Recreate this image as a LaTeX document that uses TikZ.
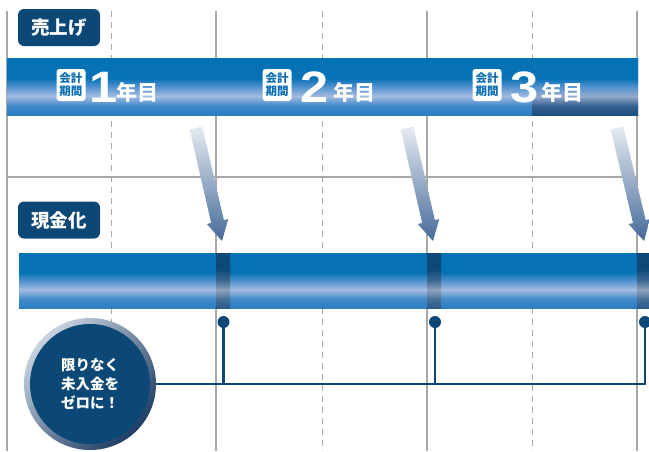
\documentclass[tikz,border=0pt]{standalone}
\usepackage{fontspec}
\newfontfamily\jp{Noto Sans CJK JP}
\newfontfamily\num[FakeStretch=1.15]{Liberation Sans}
\usepackage{tikz}
\usetikzlibrary{calc}
\usetikzlibrary{positioning}

\definecolor{navy}{HTML}{0C4876}
\definecolor{gridgray}{HTML}{A8A8A8}
\definecolor{barblue}{HTML}{0A6DB3}
\definecolor{barA}{HTML}{2B7EC2}
\definecolor{barB}{HTML}{3E88C9}
\definecolor{barC}{HTML}{A2BBE0}
\definecolor{barD}{HTML}{4F91CE}
\definecolor{barE}{HTML}{0672B6}
\definecolor{darkA}{HTML}{2C5A86}
\definecolor{darkB}{HTML}{46709A}
\definecolor{darkC}{HTML}{8EA2BC}
\definecolor{darkD}{HTML}{3D6890}
\definecolor{darkE}{HTML}{0D4A78}
\definecolor{lateA}{HTML}{1C4E7D}
\definecolor{lateB}{HTML}{33608F}
\definecolor{lateC}{HTML}{93AACD}
\definecolor{arrowtop}{HTML}{E6EBF2}
\definecolor{arrowbot}{HTML}{456A99}
\definecolor{ringlight}{HTML}{C9D3E0}
\definecolor{ringdark}{HTML}{1E3D64}

\pgfdeclareverticalshading{barshade}{100bp}{color(0bp)=(barA); color(25bp)=(barA); color(33bp)=(barB); color(41.5bp)=(barC); color(50bp)=(barD); color(57bp)=(barE); color(75bp)=(barE); color(100bp)=(barE)}
\pgfdeclareverticalshading{latebar}{100bp}{color(0bp)=(lateA); color(25bp)=(lateA); color(33bp)=(lateB); color(41.5bp)=(lateC); color(50bp)=(barD); color(57bp)=(barE); color(75bp)=(barE); color(100bp)=(barE)}
\pgfdeclareverticalshading{darkshade}{100bp}{color(0bp)=(darkA); color(25bp)=(darkA); color(33bp)=(darkB); color(41.5bp)=(darkC); color(50bp)=(darkD); color(60bp)=(darkE); color(75bp)=(darkE); color(100bp)=(darkE)}

\begin{document}
\begin{tikzpicture}[x=1pt,y=-1pt,
		gridline/.style={gridgray, line width=1.5pt},
		gridhalf/.style={gridgray, line width=1pt, dash pattern=on 6pt off 5pt},
		tag/.style={fill=navy, rounded corners=6pt, minimum width=82pt, minimum height=37pt, text=white, font=\jp\bfseries\fontsize{18.5}{18.5}\selectfont},
		termbox/.style={fill=white, rounded corners=3pt, minimum width=29pt, minimum height=32pt, inner sep=1pt, align=center, text=barblue, font=\jp\bfseries\fontsize{11.5}{13}\selectfont},
		yearnum/.style={anchor=base west, inner sep=0pt, text=white, font=\num\bfseries\fontsize{44}{44}\selectfont},
		yeartext/.style={anchor=base west, inner sep=0pt, text=white, font=\jp\bfseries\fontsize{21}{21}\selectfont},
		arrowshade/.style={top color=arrowtop, bottom color=arrowbot},
		junction/.style={circle, fill=navy, inner sep=0pt, minimum size=12pt},
		link/.style={navy, line width=2.6pt}]
	\useasboundingbox (0,0) rectangle (649,451);

	% grid
	\foreach \x in {7,216,427,637}
		\draw[gridline] (\x,11) -- (\x,451);
	\foreach \x in {111,322,532}
		\draw[gridhalf] (\x,11) -- (\x,451);
	\draw[gridline] (7,177) -- (638,177);

	% bars
	\shade[shading=barshade] (7,58) rectangle (638,115);
	\shade[shading=latebar] (532,58) rectangle (638,115);
	\shade[shading=barshade] (19,253) rectangle (649,308);
	\foreach \x in {216,427,637}
		\shade[shading=darkshade] (\x,253) rectangle (\x+14,308);

	% year labels
	\foreach \n/\bx/\dx/\yx in {1/71/89/116, 2/277/300/333, 3/487/510/541} {
		\node (term\n) [termbox] at (\bx,85) {会計\\期間};
		\node (num\n) [yearnum] at (\dx,102) {\n};
		\node (nen\n) [yeartext] at (\yx,100) {年目};
	}

	% arrows
	\foreach \sx/\tx in {196/222, 407/433, 617/644} {
		\coordinate (s) at (\sx,128);
		\coordinate (t) at (\tx,241);
		\coordinate (b) at ($(t)!20pt!(s)$);
		\shade[arrowshade] ($(s)!6.5pt!90:(t)$) -- ($(b)!6.5pt!90:(t)$) -- ($(b)!11pt!90:(t)$) -- (t)
			-- ($(b)!11pt!-90:(t)$) -- ($(b)!6.5pt!-90:(t)$) -- ($(s)!6.5pt!-90:(t)$) -- cycle;
	}

	\node (sales) [tag] at (59,27.5) {売上げ};
	\node (cash) [tag] at (59,220) {現金化};

	% collection
	\node (dot1) [junction] at (223.5,322) {};
	\node (dot2) [junction] at (435,322) {};
	\node (dot3) [junction] at (645,322) {};
	\node (zero) [circle, minimum size=132pt, inner sep=0pt, top color=ringlight, bottom color=ringdark, shading angle=45] at (90,384) {};
	\node (zeromsg) [circle, minimum size=120pt, inner sep=0pt, fill=navy, text=white, align=left, font=\jp\bfseries\fontsize{14.5}{19}\selectfont] at (zero) {限りなく\\未入金を\\ゼロに！};
	\draw[link] (zero.east) -- (zero.east -| dot3.center) -- (dot3.center);
	\draw[link] (dot1.center) -- (dot1.center |- zero.east);
	\draw[link] (dot2.center) -- (dot2.center |- zero.east);
\end{tikzpicture}
\end{document}
